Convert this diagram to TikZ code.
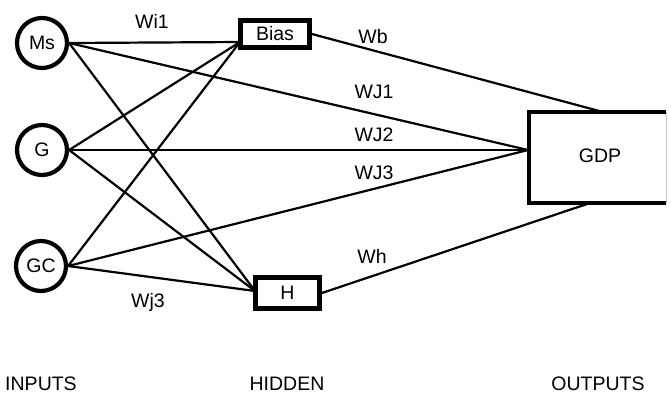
\documentclass[tikz,border=0pt]{standalone}
\usepackage{fontspec}
\setmainfont{Liberation Sans}
\begin{document}
\begin{tikzpicture}[x=1pt,y=-1pt,
  every node/.style={font=\fontsize{19.5}{21}\selectfont, text=black},
  inp/.style={circle, draw, line width=4.2pt, minimum size=50pt, inner sep=0pt},
  hid/.style={rectangle, draw, line width=4.8pt, inner sep=0pt},
  conn/.style={line width=2.2pt, line cap=round},
  lbl/.style={inner sep=0pt}]
\useasboundingbox (0,0) rectangle (671,397);
% input nodes
\node[inp] (Ms) at (42,43) {Ms};
\node[inp] (G) at (42,150) {G};
\node[inp] (GC) at (41,266) {GC};
% hidden nodes
\node[hid, minimum width=69pt, minimum height=27pt] (Bias) at (275,34) {Bias};
\node[hid, minimum width=64pt, minimum height=31pt] (H) at (287.5,293) {H};
% output node
\node[inner sep=0pt, minimum width=137pt, minimum height=91pt] (GDP) at (597.5,157.5) {};
\node[lbl] (GDPt) at (600,156) {GDP};
\draw[line width=4.2pt] (GDP.north east) -- (GDP.north west) -- (GDP.south west) -- (GDP.south east);
\draw[line width=0.8pt, black!25] (GDP.north east) -- (GDP.south east);
% convergence points
\coordinate (bin) at (240,42);
\coordinate (hin) at (255,291);
\coordinate (gin) at (528,150);
\coordinate (gtop) at (603,112);
\coordinate (gbot) at (590,203);
% connectors
\foreach \s in {Ms,G,GC}{
  \draw[conn] (\s.east) -- (bin);
  \draw[conn] (\s.east) -- (hin);
  \draw[conn] (\s.east) -- (gin);
}
\draw[conn] (Bias.east) -- (gtop);
\draw[conn] (H.east) -- (gbot);
% weight labels
\node[lbl] (wi1) at (152,21) {Wi1};
\node[lbl] (wb) at (373,37) {Wb};
\node[lbl] (wj1) at (374,92) {WJ1};
\node[lbl] (wj2) at (374,135) {WJ2};
\node[lbl] (wj3) at (374,173) {WJ3};
\node[lbl] (wh) at (372,256) {Wh};
\node[lbl] (wj3b) at (148,302) {Wj3};
% layer labels
\node[lbl] (inputs) at (41,384) {INPUTS};
\node[lbl] (hidden) at (287,384) {HIDDEN};
\node[lbl] (outputs) at (598,384) {OUTPUTS};
\end{tikzpicture}
\end{document}
